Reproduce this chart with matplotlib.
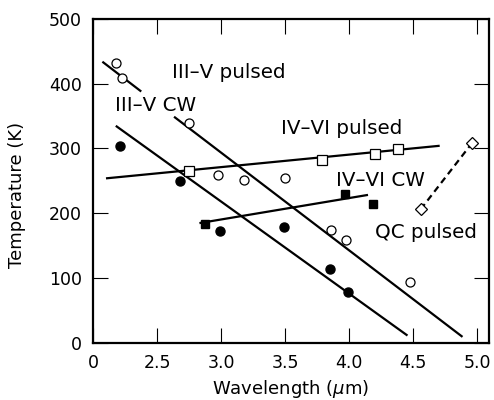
import numpy as np
import matplotlib
matplotlib.use("Agg")
import matplotlib.pyplot as plt

# III-V pulsed (open circles)
iiiv_pulsed_x = [2.18, 2.23, 2.75, 2.98, 3.18, 3.50, 3.86, 3.98, 4.48]
iiiv_pulsed_y = [432, 409, 339, 259, 252, 254, 174, 159, 93]
# fitted line, broken where the "III-V CW" label sits
iiiv_pulsed_line_x = [2.08, 2.37, np.nan, 2.64, 4.88]
iiiv_pulsed_line_y = [433, 389, np.nan, 348, 10]

# III-V CW (filled circles)
iiiv_cw_x = [2.21, 2.68, 2.99, 3.49, 3.85, 3.99]
iiiv_cw_y = [304, 250, 173, 178, 114, 79]
iiiv_cw_line_x = [2.185, 4.45]
iiiv_cw_line_y = [334, 12]

# IV-VI pulsed (open squares)
ivvi_pulsed_x = [2.75, 3.79, 4.20, 4.38]
ivvi_pulsed_y = [265, 282, 291, 299]
ivvi_pulsed_line_x = [2.11, 4.70]
ivvi_pulsed_line_y = [254, 304]

# IV-VI CW (filled squares)
ivvi_cw_x = [2.875, 3.97, 4.19]
ivvi_cw_y = [183, 229, 214]
ivvi_cw_line_x = [2.84, 4.14]
ivvi_cw_line_y = [185, 228]

# QC pulsed (open diamonds)
qc_x = [4.56, 4.96]
qc_y = [206, 308]

x_ticks = [2.0, 2.5, 3.0, 3.5, 4.0, 4.5, 5.0]
x_tick_labels = ["0", "2.5", "3.0", "3.5", "4.0", "4.5", "5.0"]
y_ticks = [0, 100, 200, 300, 400, 500]

plt.rcParams["font.family"] = ["DejaVu Sans"]

fig = plt.figure(figsize=(4.94, 4.00), dpi=100)
ax = fig.add_axes([0.1883, 0.1433, 0.8016, 0.8092])

lw = 1.6
ax.plot(iiiv_pulsed_line_x, iiiv_pulsed_line_y, color="black", lw=lw)
ax.plot(iiiv_cw_line_x, iiiv_cw_line_y, color="black", lw=lw)
ax.plot(ivvi_pulsed_line_x, ivvi_pulsed_line_y, color="black", lw=lw)
ax.plot(ivvi_cw_line_x, ivvi_cw_line_y, color="black", lw=lw)
ax.plot(qc_x, qc_y, color="black", lw=lw, ls=(0, (3, 2)))

ax.plot(iiiv_pulsed_x, iiiv_pulsed_y, "o", ms=6.5, mfc="white", mec="black", mew=0.9)
ax.plot(iiiv_cw_x, iiiv_cw_y, "o", ms=6.5, mfc="black", mec="black")
ax.plot(ivvi_pulsed_x, ivvi_pulsed_y, "s", ms=6.5, mfc="white", mec="black", mew=0.9)
ax.plot(ivvi_cw_x, ivvi_cw_y, "s", ms=6, mfc="black", mec="black")
ax.plot(qc_x, qc_y, "D", ms=6, mfc="white", mec="black", mew=0.9, zorder=5)

fs = 14.3
ax.text(2.617, 417, "III\u2013V pulsed", fontsize=fs, va="center", ha="left")
ax.text(2.17, 366, "III\u2013V CW", fontsize=fs, va="center", ha="left")
ax.text(3.47, 331, "IV\u2013VI pulsed", fontsize=fs, va="center", ha="left")
ax.text(3.90, 251, "IV\u2013VI CW", fontsize=fs, va="center", ha="left")
ax.text(4.20, 170, "QC pulsed", fontsize=fs, va="center", ha="left")

ax.set_xlim(2.0, 5.094)
ax.set_ylim(0, 500)
ax.set_xticks(x_ticks)
ax.set_xticklabels(x_tick_labels)
ax.set_yticks(y_ticks)

ax.tick_params(direction="in", top=True, right=True, length=11, width=0.8,
               labelsize=12.5, pad=8)
for s in ax.spines.values():
    s.set_linewidth(1.6)

ax.set_xlabel(r"Wavelength ($\mu$m)", fontsize=13)
ax.set_ylabel("Temperature (K)", fontsize=13)
ax.xaxis.set_label_coords(0.5, -0.108)
ax.yaxis.set_label_coords(-0.169, 0.456)

fig.savefig("out.png", dpi=100)
